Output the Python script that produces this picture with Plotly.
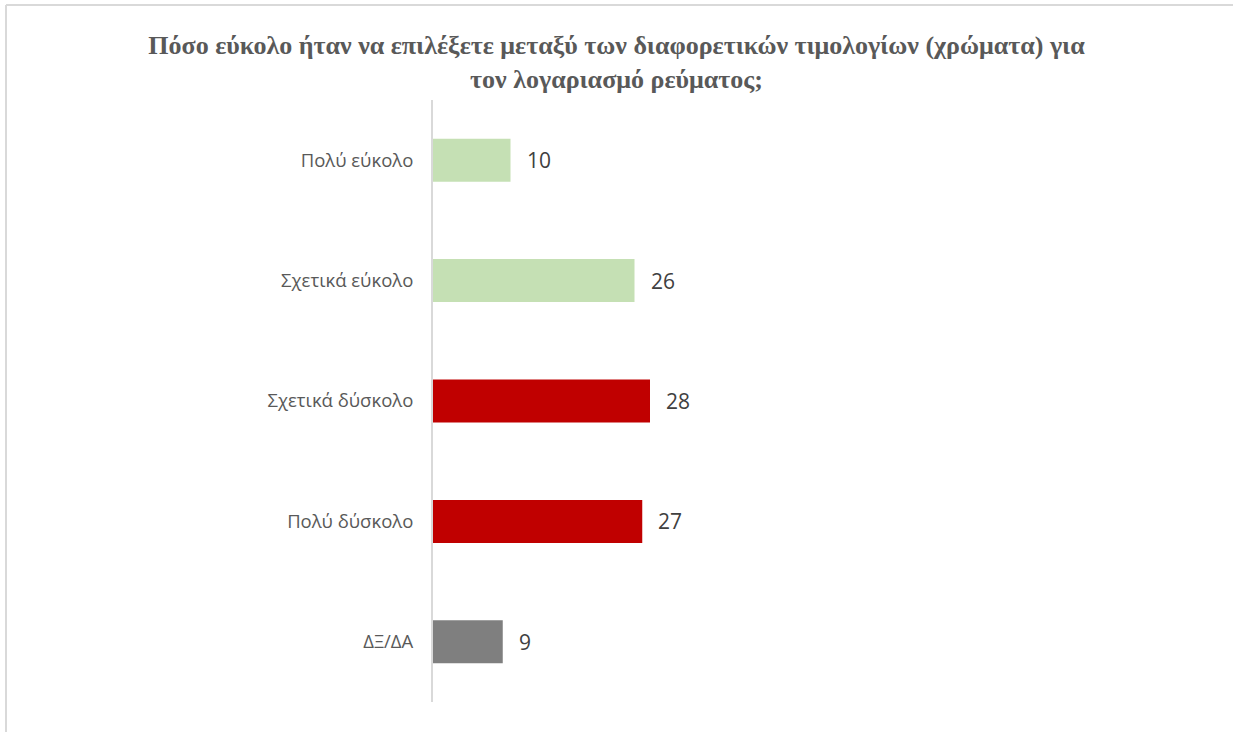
import plotly.graph_objects as go

categories = ["Πολύ εύκολο", "Σχετικά εύκολο", "Σχετικά δύσκολο", "Πολύ δύσκολο", "ΔΞ/ΔΑ"]
values = [10, 26, 28, 27, 9]
bar_colors = ["#C5E0B4", "#C5E0B4", "#C00000", "#C00000", "#7F7F7F"]

title_text = ("<b>Πόσο εύκολο ήταν να επιλέξετε μεταξύ των διαφορετικών τιμολογίων (χρώματα) για"
              "<br>τον λογαριασμό ρεύματος;</b>")

fig = go.Figure()
fig.add_trace(go.Bar(
    y=categories,
    x=values,
    orientation="h",
    marker=dict(color=bar_colors, line=dict(width=0)),
    width=0.357,
    hoverinfo="skip",
))

# value labels just to the right of each bar
for cat, val in zip(categories, values):
    fig.add_annotation(
        x=val, y=cat, text=str(val), showarrow=False,
        xanchor="left", yanchor="middle", xshift=14,
        font=dict(family="Open Sans, Liberation Sans, sans-serif", size=21, color="#404040"),
    )

fig.update_layout(
    width=1233, height=732,
    margin=dict(l=433, r=25, t=100, b=30),
    paper_bgcolor="white", plot_bgcolor="white",
    showlegend=False,
    title=dict(
        text=title_text, x=0.5, xref="container", xanchor="center",
        y=1 - 54 / 732, yref="container", yanchor="middle",
        font=dict(family="Liberation Serif, Times New Roman, serif", size=26, color="#595959"),
    ),
    xaxis=dict(range=[0, 100], visible=False, fixedrange=True),
    yaxis=dict(
        autorange="reversed",
        showline=True, linecolor="#D9D9D9", linewidth=2,
        showgrid=False, zeroline=False, ticks="", ticklabelstandoff=14,
        tickfont=dict(family="Open Sans, Liberation Sans, sans-serif", size=18.5, color="#595959"),
    ),
)

# chart frame (top and left edges visible)
fig.add_shape(type="line", xref="paper", yref="paper", x0=-427/775, x1=1.05, y0=(702-5)/602, y1=(702-5)/602,
              line=dict(color="#D9D9D9", width=2))
fig.add_shape(type="line", xref="paper", yref="paper", x0=-427/775, x1=-427/775, y0=-0.1, y1=(702-5)/602,
              line=dict(color="#D9D9D9", width=2))

fig.write_html("out.html")
